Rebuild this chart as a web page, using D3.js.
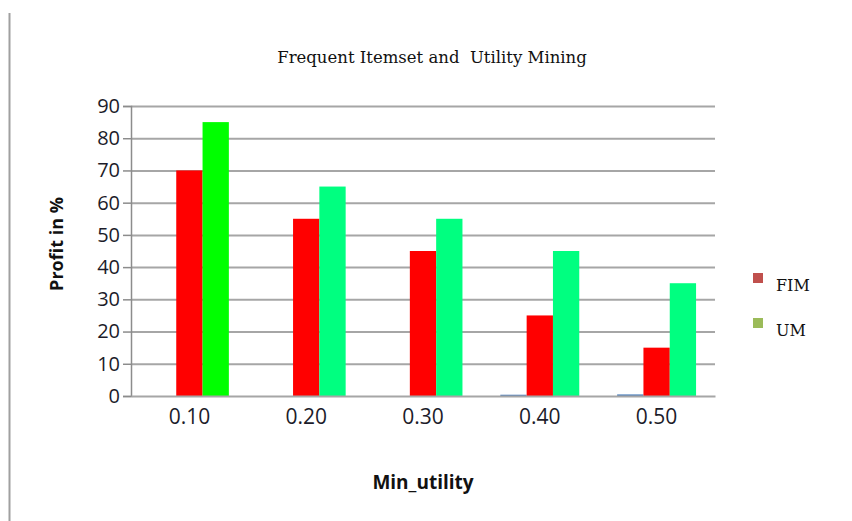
<!DOCTYPE html>
<html>
<head>
<meta charset="utf-8">
<script src="https://d3js.org/d3.v7.min.js"></script>
<style>
  body { margin: 0; background: #fff; }
  svg { display: block; }
  .tick text { font-family: "Open Sans", "Liberation Sans", sans-serif; fill: #1c1c2a; }
</style>
</head>
<body>
<div id="chart"></div>
<script>
// Data
const categories = ["0.10", "0.20", "0.30", "0.40", "0.50"];
const series = ["base", "FIM", "UM"];
const baseValues = [0, 0, 0, 0.4, 0.5];
const fimValues = [70, 55, 45, 25, 15];
const umValues = [85, 65, 55, 45, 35];
const yTicks = [0, 10, 20, 30, 40, 50, 60, 70, 80, 90];

const barColor = {
  base: "#4f81bd",
  FIM: "#ff0000",
  UM: "#00ff80"
};
const legendColor = { FIM: "#c0504d", UM: "#9bbb59" };

const rows = categories.map((c, i) => ({
  cat: c,
  base: baseValues[i],
  FIM: fimValues[i],
  UM: umValues[i]
}));

const W = 852, H = 521;
const plot = { left: 131, right: 715, top: 106, bottom: 396 };

const svg = d3.select("#chart").append("svg")
  .attr("width", W)
  .attr("height", H);

// left border line
svg.append("line")
  .attr("x1", 9.5).attr("x2", 9.5)
  .attr("y1", 13).attr("y2", H)
  .attr("stroke", "#a0a0a0")
  .attr("stroke-width", 2);

// Scales
const x = d3.scaleBand()
  .domain(categories)
  .range([plot.left, plot.right]);

const xInner = d3.scaleBand()
  .domain(series)
  .range([0, x.bandwidth()])
  .paddingOuter(0.72)
  .paddingInner(0);

const y = d3.scaleLinear()
  .domain([0, 90])
  .range([plot.bottom, plot.top]);

// Grid
svg.append("g")
  .attr("transform", `translate(${plot.left},0)`)
  .call(d3.axisLeft(y).tickValues(yTicks.slice(1))
    .tickSize(-(plot.right - plot.left)).tickFormat(""))
  .call(g => g.select(".domain").remove())
  .selectAll("line")
  .attr("stroke", "#a6a6a6")
  .attr("stroke-width", 2);

// Y axis
const yAxis = svg.append("g")
  .attr("transform", `translate(${plot.left},0)`)
  .call(d3.axisLeft(y).tickValues(yTicks).tickSize(8).tickPadding(3));
yAxis.select(".domain").attr("stroke", "#8c8c8c").attr("stroke-width", 1.5);
yAxis.selectAll(".tick line").attr("stroke", "#8c8c8c").attr("stroke-width", 1.5);
yAxis.selectAll("text").style("font-size", "20px");

// Bars
const groups = svg.append("g")
  .selectAll("g")
  .data(rows)
  .join("g")
  .attr("transform", d => `translate(${x(d.cat)},0)`);

groups.selectAll("rect")
  .data(d => series.map(s => ({ key: s, value: d[s], cat: d.cat })))
  .join("rect")
  .attr("x", d => xInner(d.key))
  .attr("y", d => y(d.value))
  .attr("width", xInner.bandwidth())
  .attr("height", d => y(0) - y(d.value))
  .attr("fill", d => (d.key === "UM" && d.cat === "0.10") ? "#00ff00" : barColor[d.key]);

// X axis
const xAxis = svg.append("g")
  .attr("transform", `translate(0,${plot.bottom})`)
  .call(d3.axisBottom(x).tickSize(0).tickPadding(13));
xAxis.select(".domain").attr("stroke", "#a6a6a6").attr("stroke-width", 2);
xAxis.selectAll("text").style("font-size", "21px");

// Title
svg.append("text")
  .attr("x", 432)
  .attr("y", 63)
  .attr("text-anchor", "middle")
  .style("font-family", "'DejaVu Serif', 'Liberation Serif', serif")
  .style("font-size", "16.5px")
  .style("white-space", "pre")
  .attr("fill", "#111")
  .text("Frequent Itemset and  Utility Mining");

// Axis titles
svg.append("text")
  .attr("transform", "translate(63,244) rotate(-90)")
  .attr("text-anchor", "middle")
  .style("font-family", "'Open Sans', 'Liberation Sans', sans-serif")
  .style("font-weight", "bold")
  .style("font-size", "18px")
  .attr("fill", "#111")
  .text("Profit in %");

svg.append("text")
  .attr("x", 423)
  .attr("y", 489)
  .attr("text-anchor", "middle")
  .style("font-family", "'Open Sans', 'Liberation Sans', sans-serif")
  .style("font-weight", "bold")
  .style("font-size", "19px")
  .attr("fill", "#111")
  .text("Min_utility");

// Legend
const legendKeys = ["FIM", "UM"];
const legend = svg.append("g")
  .selectAll("g")
  .data(legendKeys)
  .join("g")
  .attr("transform", (d, i) => `translate(753,${273 + i * 45})`);

legend.append("rect")
  .attr("width", 10)
  .attr("height", 10)
  .attr("fill", d => legendColor[d]);

legend.append("text")
  .attr("x", 23)
  .attr("y", 18)
  .style("font-family", "'DejaVu Serif', 'Liberation Serif', serif")
  .style("font-size", "16px")
  .attr("fill", "#111")
  .text(d => d);
</script>
</body>
</html>
